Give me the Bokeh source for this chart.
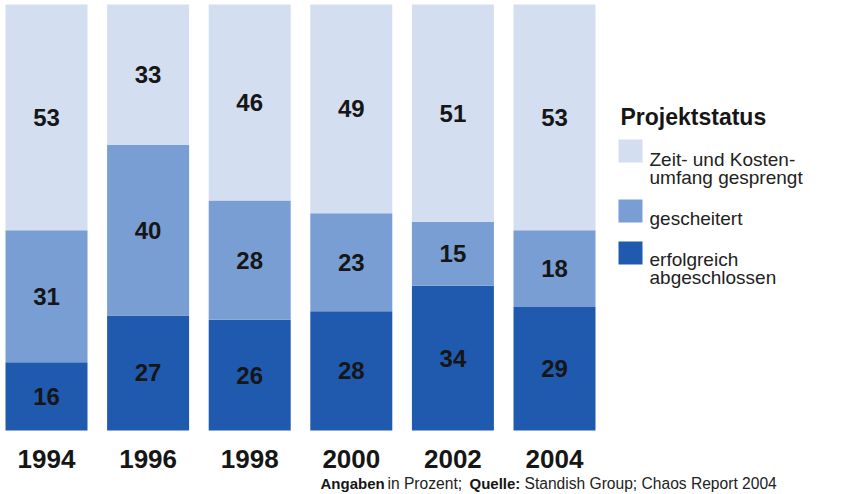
from bokeh.plotting import figure
from bokeh.models import Range1d, ColumnDataSource
from bokeh.core.properties import value
from bokeh.embed import file_html
from bokeh.resources import INLINE

# ---- data ----
years = ["1994", "1996", "1998", "2000", "2002", "2004"]
erfolgreich = [16, 27, 26, 28, 34, 29]
gescheitert = [31, 40, 28, 23, 15, 18]
gesprengt = [53, 33, 46, 49, 51, 53]
legend_title = "Projektstatus"
legend_labels = [["Zeit- und Kosten-", "umfang gesprengt"], ["gescheitert"], ["erfolgreich", "abgeschlossen"]]

C_LIGHT = "#D3DEF0"
C_MID = "#789ED4"
C_DARK = "#1F5AAF"
TXT = "#161616"

W, H = 862, 494
# pixel layout helpers (layout only)
PX_TOP, PX_BOT = 4, 430
X0, STEP = 46, 101.6
def dy(py):
    return (PX_BOT - py) / (PX_BOT - PX_TOP) * 100
def dx(px):
    return (px - X0) / STEP

p = figure(width=W, height=H, output_backend="svg", toolbar_location=None,
           x_range=Range1d(dx(0), dx(W)), y_range=Range1d(dy(H), dy(0)),
           min_border=0, min_border_left=0, min_border_right=0,
           min_border_top=0, min_border_bottom=0)
p.xaxis.visible = False
p.yaxis.visible = False
p.grid.visible = False
p.outline_line_color = None
p.background_fill_color = "white"
p.border_fill_color = "white"

xs = list(range(len(years)))
src = ColumnDataSource(dict(x=xs, erfolgreich=erfolgreich, gescheitert=gescheitert, gesprengt=gesprengt))
p.vbar_stack(["erfolgreich", "gescheitert", "gesprengt"], x="x", width=82 / STEP, source=src,
             color=[C_DARK, C_MID, C_LIGHT], line_color=None)

# value labels centered in segments
lx, ly, lt = [], [], []
for i in xs:
    base = 0
    for v in (erfolgreich[i], gescheitert[i], gesprengt[i]):
        lx.append(i)
        ly.append(base + v / 2)
        lt.append(str(v))
        base += v
p.text(x=lx, y=ly, text=lt, text_align="center", text_baseline="middle",
       text_font=value("Liberation Sans"), text_font_style="bold",
       text_font_size="24px", text_color=TXT)

# year labels
p.text(x=xs, y=[dy(458)] * len(xs), text=years, text_align="center", text_baseline="alphabetic",
       text_font=value("Liberation Sans"), text_font_style="bold",
       text_font_size="26px", text_color=TXT)

# legend
p.text(x=[dx(620)], y=[dy(116)], text=[legend_title], text_baseline="alphabetic",
       text_font=value("Liberation Sans"), text_font_style="bold",
       text_font_size="23px", text_color=TXT)
box_tops = [139, 199, 241]
p.quad(left=[dx(618)] * 3, right=[dx(642)] * 3,
       top=[dy(t) for t in box_tops], bottom=[dy(t + 23) for t in box_tops],
       color=[C_LIGHT, C_MID, C_DARK], line_color=None)
first_baselines = [159, 218, 259]
tx, ty, tt = [], [], []
for lines, b in zip(legend_labels, first_baselines):
    for k, line in enumerate(lines):
        tx.append(dx(649))
        ty.append(dy(b + 18 * k))
        tt.append(line)
p.text(x=tx, y=ty, text=tt, text_baseline="alphabetic",
       text_font=value("Liberation Sans"), text_font_size="19px", text_color="#222222")

# footer
p.text(x=[dx(320), dx(469)], y=[dy(483)] * 2, text=["Angaben", "Quelle:"], text_baseline="alphabetic",
       text_font=value("Liberation Sans"), text_font_style="bold", text_font_size="15px", text_color=TXT)
p.text(x=[dx(387), dx(524)], y=[dy(483)] * 2, text=["in Prozent;", "Standish Group; Chaos Report 2004"],
       text_baseline="alphabetic",
       text_font=value("Liberation Sans"), text_font_size="15.6px", text_color="#222222")

open("out.html", "w").write(file_html(p, INLINE))
